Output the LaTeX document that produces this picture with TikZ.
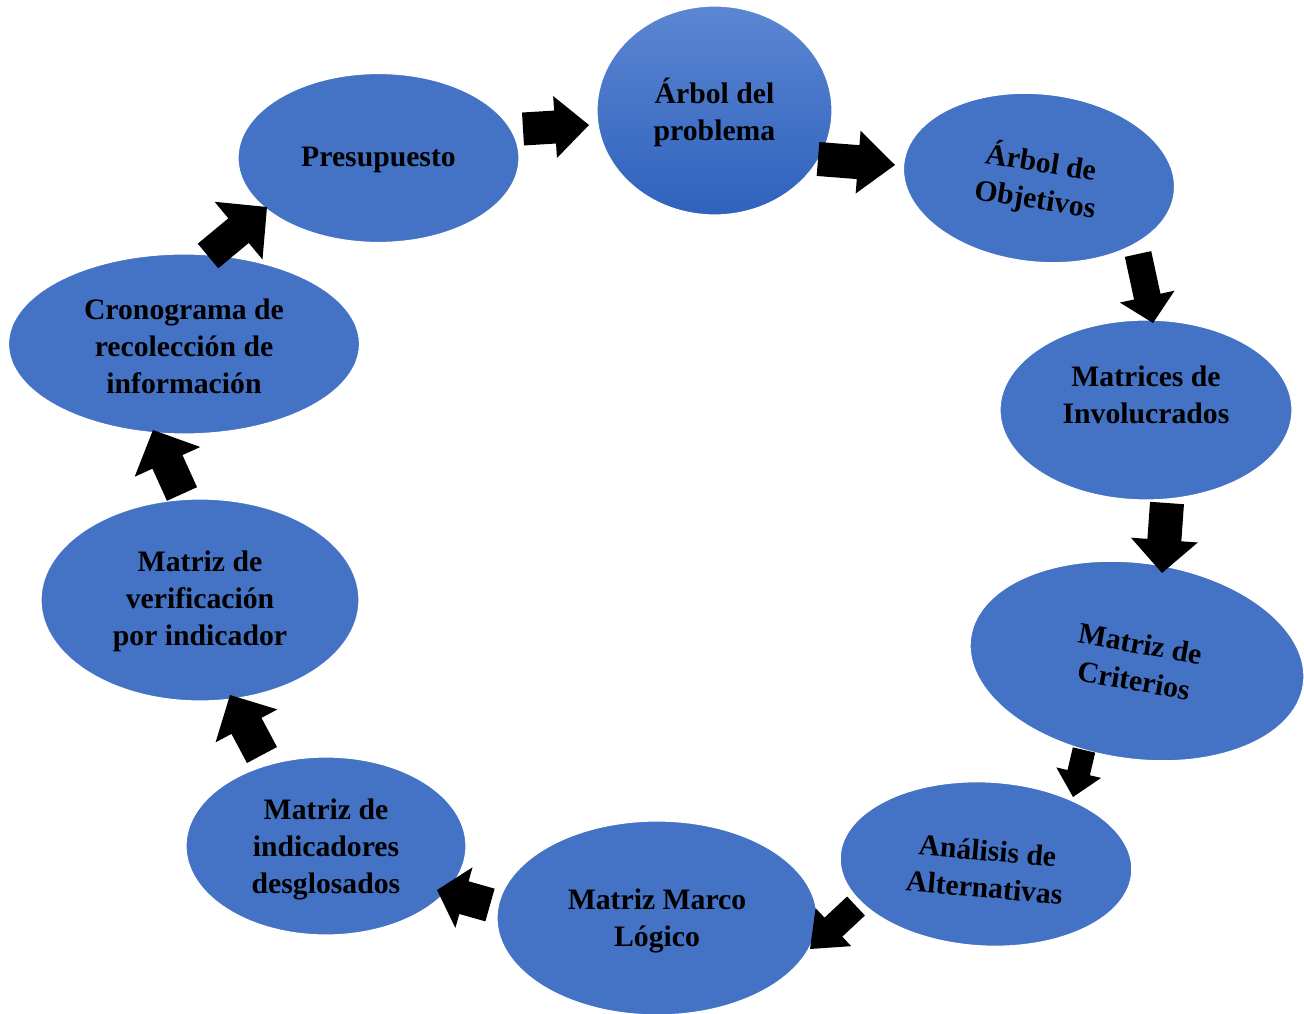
\documentclass[tikz,border=0pt]{standalone}
\usepackage{fontspec}
\setmainfont{Liberation Serif}
\usetikzlibrary{shapes.geometric,calc}
\definecolor{ellblue}{HTML}{4472C4}
\definecolor{gradtop}{HTML}{5B86D2}
\definecolor{gradbot}{HTML}{2F62BC}
\newcommand{\lblfont}{\fontsize{29.7}{37}\selectfont\bfseries}
% block arrow: from, to, half shaft, head length, half head width
\newcommand{\blockarr}[5]{%
  \coordinate (#1base) at ($(#2)!#4!(#1)$);
  \fill[arrowfill] ($(#1)!#3!90:(#2)$) -- ($(#1base)!#3!-90:(#1)$) -- ($(#1base)!#5!-90:(#1)$) -- (#2)
     -- ($(#1base)!#5!90:(#1)$) -- ($(#1base)!#3!90:(#1)$) -- ($(#1)!#3!-90:(#2)$) -- cycle;
}
\begin{document}
\begin{tikzpicture}[x=1pt,y=-1pt,
  ell/.style={ellipse, fill=ellblue, inner sep=0pt, draw=white, line width=1.2pt},
  lbl/.style={align=center, font=\lblfont, text=black, inner sep=0pt},
  arrowfill/.style={fill=black}]
\useasboundingbox (0,0) rectangle (1304,1014);

% ellipses
\node[ell, top color=gradtop, bottom color=gradbot, minimum width=235pt, minimum height=209pt] (n1) at (714.5,110.5) {};
\node[ell, rotate=-6, minimum width=272pt, minimum height=168pt] (n2) at (1039,178) {};
\node[ell, minimum width=292pt, minimum height=180pt] (n3) at (1146,410) {};
\node[ell, rotate=-8, minimum width=336pt, minimum height=196pt] (n4) at (1137,661) {};
\node[ell, rotate=-3, minimum width=292pt, minimum height=164pt] (n5) at (986,864) {};
\node[ell, minimum width=320pt, minimum height=194pt] (n6) at (657,918) {};
\node[ell, minimum width=280pt, minimum height=178pt] (n7) at (326,846) {};
\node[ell, minimum width=318pt, minimum height=202pt] (n8) at (200,600) {};
\node[ell, minimum width=351pt, minimum height=180pt] (n9) at (184,344) {};
\node[ell, minimum width=281pt, minimum height=169pt] (n10) at (378.5,158) {};

% labels
\node[lbl] (t1) at (714.5,112) {Árbol del\\problema};
\node[lbl, rotate=-9] (t2) at (1038,181) {Árbol de\\Objetivos};
\node[lbl] (t3) at (1146,395) {Matrices de\\Involucrados};
\node[lbl, rotate=-10] (t4) at (1137,662) {Matriz de\\Criterios};
\node[lbl, rotate=-5] (t5) at (986,869) {Análisis de\\Alternativas};
\node[lbl] (t6) at (657,921) {Matriz Marco\\Lógico};
\node[lbl] (t7) at (326,849) {Matriz de\\indicadores\\desglosados};
\node[lbl] (t8) at (200,601) {Matriz de\\verificación\\por indicador};
\node[lbl] (t9) at (184,346) {Cronograma de\\recolección de\\información};
\node[lbl] (t10) at (378.5,160) {Presupuesto};

% arrow end points
\coordinate (a1s) at (523,129);   \coordinate (a1e) at (589,125);
\coordinate (a2s) at (818,159);   \coordinate (a2e) at (895,165);
\coordinate (a3s) at (1138,254);  \coordinate (a3e) at (1153,323);
\coordinate (a4s) at (1167,503);  \coordinate (a4e) at (1162,573);
\coordinate (a5s) at (1084,750);  \coordinate (a5e) at (1073,797);
\coordinate (a6s) at (856,906);   \coordinate (a6e) at (810,949);
\coordinate (a7s) at (490,905);   \coordinate (a7e) at (437,890);
\coordinate (a8s) at (262,755);   \coordinate (a8e) at (230,695);
\coordinate (a9s) at (182,494);   \coordinate (a9e) at (153,430);
\coordinate (a10s) at (208,256);  \coordinate (a10e) at (267,207);

% block arrows
\blockarr{a1s}{a1e}{16.5pt}{34pt}{31pt}
\blockarr{a2s}{a2e}{17pt}{37pt}{31.5pt}
\blockarr{a3s}{a3e}{13.5pt}{27pt}{28pt}
\blockarr{a4s}{a4e}{17pt}{33pt}{33.5pt}
\blockarr{a5s}{a5e}{11.5pt}{25pt}{23pt}
\blockarr{a6s}{a6e}{13pt}{32pt}{26pt}
\blockarr{a7s}{a7e}{17pt}{28pt}{31.5pt}
\blockarr{a8s}{a8e}{17pt}{35pt}{35pt}
\blockarr{a9s}{a9e}{16.5pt}{35pt}{36pt}
\blockarr{a10s}{a10e}{16pt}{37pt}{37.5pt}
\end{tikzpicture}
\end{document}
